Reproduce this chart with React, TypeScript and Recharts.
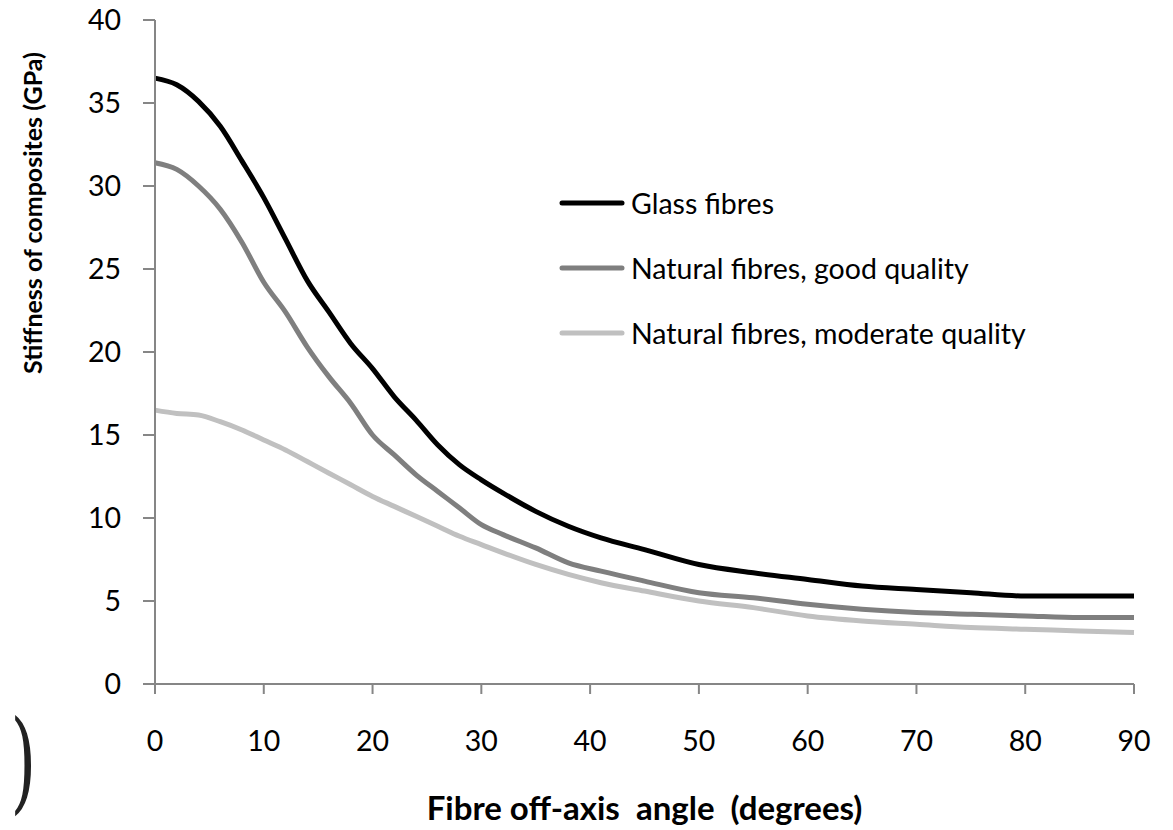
import { Label, Line, LineChart, XAxis, YAxis } from "recharts";

const angles = [0, 2, 4, 6, 8, 10, 12, 14, 16, 18, 20, 22, 24, 26, 28, 30, 32, 35, 38, 41, 45, 50, 55, 60, 65, 70, 75, 80, 85, 90];

const glass = [36.5, 36.1, 35.1, 33.6, 31.5, 29.3, 26.8, 24.3, 22.4, 20.5, 19.0, 17.3, 15.9, 14.4, 13.2, 12.3, 11.5, 10.4, 9.5, 8.8, 8.1, 7.2, 6.7, 6.3, 5.9, 5.7, 5.5, 5.3, 5.3, 5.3];
const naturalGood = [31.4, 31.0, 30.0, 28.6, 26.6, 24.2, 22.4, 20.3, 18.5, 16.9, 15.0, 13.8, 12.6, 11.6, 10.6, 9.6, 9.0, 8.2, 7.3, 6.8, 6.2, 5.5, 5.2, 4.8, 4.5, 4.3, 4.2, 4.1, 4.0, 4.0];
const naturalModerate = [16.5, 16.3, 16.2, 15.8, 15.3, 14.7, 14.1, 13.4, 12.7, 12.0, 11.3, 10.7, 10.1, 9.5, 8.9, 8.4, 7.9, 7.2, 6.6, 6.1, 5.6, 5.0, 4.6, 4.1, 3.8, 3.6, 3.4, 3.3, 3.2, 3.1];

const xTicks = [0, 10, 20, 30, 40, 50, 60, 70, 80, 90];
const yTicks = [0, 5, 10, 15, 20, 25, 30, 35, 40];

const series = [
  { key: "glass", label: "Glass fibres", color: "#000000" },
  { key: "good", label: "Natural fibres, good quality", color: "#7f7f7f" },
  { key: "moderate", label: "Natural fibres, moderate quality", color: "#c0c0c0" },
];

const data = angles.map((a, i) => ({
  angle: a,
  glass: glass[i],
  good: naturalGood[i],
  moderate: naturalModerate[i],
}));

const font = "Lato, 'Open Sans', sans-serif";
const axisColor = "#868686";
const nb = "\u00a0";

function LegendBox() {
  return (
    <div
      style={{
        position: "absolute",
        left: 559,
        top: 170,
        fontFamily: font,
        fontSize: 28.5,
        color: "#000",
        whiteSpace: "nowrap",
      }}
    >
      {series.map((s) => (
        <div key={s.key} style={{ display: "flex", alignItems: "center", height: 65 }}>
          <svg width={66} height={10} style={{ marginRight: 6 }}>
            <line x1={3} y1={5} x2={63} y2={5} stroke={s.color} strokeWidth={5} strokeLinecap="round" />
          </svg>
          <span>{s.label}</span>
        </div>
      ))}
    </div>
  );
}

export default function App() {
  return (
    <div style={{ position: "absolute", left: 0, top: 0, width: 1173, height: 830, background: "#fff" }}>
      <LineChart width={1173} height={830} data={data} margin={{ top: 20, right: 39, bottom: 0, left: 0 }}>
        <XAxis
          dataKey="angle"
          type="number"
          domain={[0, 90]}
          ticks={xTicks}
          height={146}
          stroke={axisColor}
          strokeWidth={2}
          tickSize={10}
          tickMargin={37}
          tick={{ fill: "#000", fontSize: 28.5, fontFamily: font }}
        >
          <Label
            value={`Fibre off-axis ${nb}angle ${nb}(degrees)`}
            position="insideBottom"
            offset={10}
            style={{ fill: "#000", fontSize: 33, fontWeight: 700, fontFamily: font }}
          />
        </XAxis>
        <YAxis
          type="number"
          domain={[0, 40]}
          ticks={yTicks}
          width={155}
          stroke={axisColor}
          strokeWidth={2}
          tickSize={12}
          tickMargin={22}
          tick={{ fill: "#000", fontSize: 28.5, fontFamily: font }}
        >
          <Label
            value="Stiffness of composites (GPa)"
            angle={-90}
            position="insideLeft"
            offset={33}
            dy={-139}
            style={{ fill: "#000", fontSize: 25, fontWeight: 700, fontFamily: font, textAnchor: "middle" }}
          />
        </YAxis>
        {series.map((s) => (
          <Line
            key={s.key}
            type="monotone"
            dataKey={s.key}
            stroke={s.color}
            strokeWidth={5}
            dot={false}
            isAnimationActive={false}
          />
        ))}
      </LineChart>
      <LegendBox />
      <div
        style={{
          position: "absolute",
          left: 2,
          top: 706,
          fontFamily: "'DejaVu Serif', serif",
          fontSize: 110,
          lineHeight: "110px",
          color: "#222",
          transform: "scaleX(0.6)",
        }}
      >
        )
      </div>
    </div>
  );
}
